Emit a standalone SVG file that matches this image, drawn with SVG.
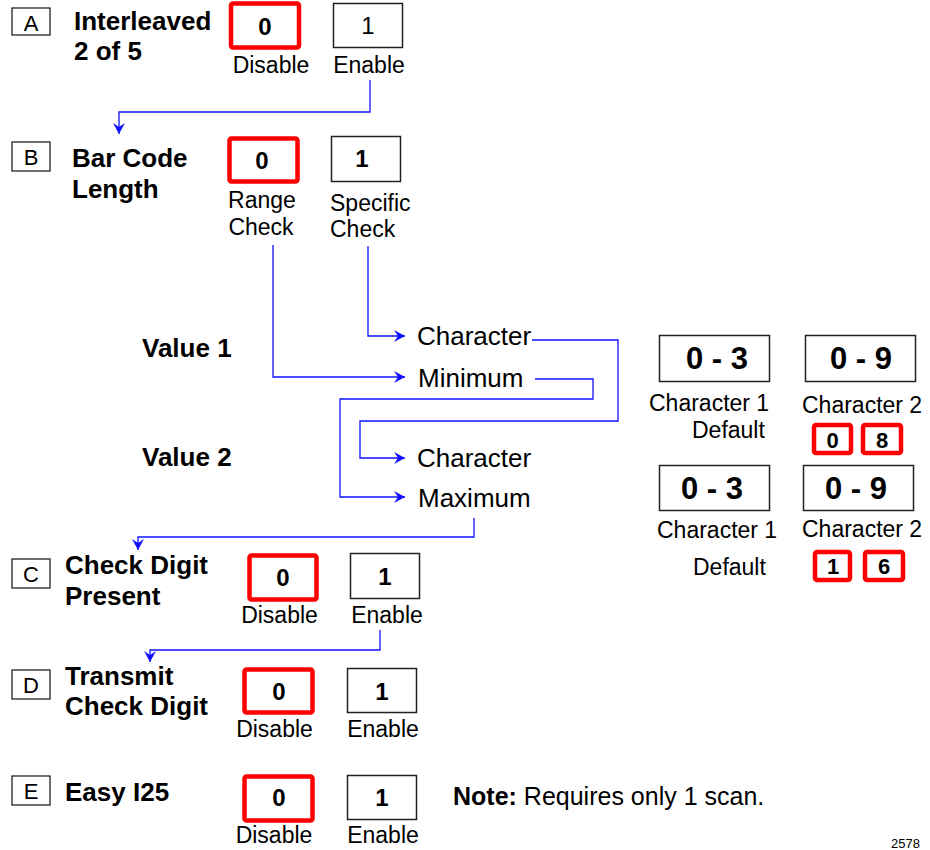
<svg xmlns="http://www.w3.org/2000/svg" width="930" height="850" viewBox="0 0 930 850">
<style>
.bg{fill:#ffffff}
.lbl{fill:#fff;stroke:#222;stroke-width:1.3}
.sel{fill:#fff;stroke:#ff0000;stroke-width:4.5}
.opt{fill:#fff;stroke:#222;stroke-width:1.5}
.t{font-family:"Liberation Sans",Arial,sans-serif;fill:#000}
.ltr{font-size:22px;text-anchor:middle}
.hd{font-size:26px;font-weight:bold}
.dig{font-size:24px;font-weight:bold;text-anchor:middle}
.sm{font-size:23px}
.c{text-anchor:middle}
.mid{font-size:26px}
.rng{font-size:31px;font-weight:bold;text-anchor:middle}
.sd{font-size:22px;font-weight:bold;text-anchor:middle}
.conn{fill:none;stroke:#1010ff;stroke-width:1.3}
</style>
<defs>
<marker id="arr" markerWidth="12" markerHeight="12" refX="11" refY="6" orient="auto" markerUnits="userSpaceOnUse">
<path d="M0,0 L11,6 L0,12 L4,6 Z" fill="#1010ff"/>
</marker>
</defs>
<rect class="bg" x="0" y="0" width="930" height="850"/>

<g id="rowA">
<rect class="lbl" x="12" y="8" width="38" height="27"/>
<text class="t ltr" x="31" y="31">A</text>
<text class="t hd" x="74" y="30">Interleaved</text>
<text class="t hd" x="74" y="60">2 of 5</text>
</g>
<g id="A0">
<rect class="sel" x="231" y="3.5" width="68" height="44" rx="2"/>
<text class="t dig" x="265" y="35">0</text>
<text class="t sm c" x="271" y="73">Disable</text>
</g>
<g id="A1">
<rect class="opt" x="333.5" y="3.5" width="69" height="44"/>
<text class="t c" style="font-size:24px" x="368" y="34">1</text>
<text class="t sm c" x="369" y="73">Enable</text>
</g>

<g id="rowB">
<rect class="lbl" x="12" y="142" width="38" height="29"/>
<text class="t ltr" x="31" y="165">B</text>
<text class="t hd" x="72" y="167">Bar Code</text>
<text class="t hd" x="72" y="198">Length</text>
</g>
<g id="B0">
<rect class="sel" x="229.5" y="138.5" width="68" height="43" rx="2"/>
<text class="t dig" x="262" y="169">0</text>
<text class="t sm c" x="262" y="208">Range</text>
<text class="t sm c" x="261" y="235">Check</text>
</g>
<g id="B1">
<rect class="opt" x="331.5" y="136.5" width="69" height="45"/>
<text class="t dig" x="362" y="167">1</text>
<text class="t sm" x="330" y="211">Specific</text>
<text class="t sm" x="330" y="237">Check</text>
</g>

<g id="values">
<text class="t hd" x="142" y="357">Value 1</text>
<text class="t hd" x="142" y="466">Value 2</text>
</g>
<g id="char1"><text class="t mid" x="417" y="345">Character</text></g>
<g id="minimum"><text class="t mid" x="418" y="387">Minimum</text></g>
<g id="char2"><text class="t mid" x="417" y="467">Character</text></g>
<g id="maximum"><text class="t mid" x="418" y="507">Maximum</text></g>

<g id="range1">
<rect class="opt" x="659.5" y="335.5" width="110" height="46"/>
<text class="t rng" x="717" y="369">0 - 3</text>
<rect class="opt" x="805.5" y="335.5" width="110" height="46"/>
<text class="t rng" x="861" y="369">0 - 9</text>
<text class="t sm" x="649" y="411">Character 1</text>
<text class="t sm" x="802" y="413">Character 2</text>
<text class="t sm" x="692" y="438">Default</text>
<rect class="sel" x="814" y="425" width="37" height="28" rx="2"/>
<text class="t sd" x="832.5" y="448">0</text>
<rect class="sel" x="863" y="425" width="38" height="28" rx="2"/>
<text class="t sd" x="882" y="448">8</text>
</g>
<g id="range2">
<rect class="opt" x="659.5" y="465.5" width="110" height="45"/>
<text class="t rng" x="712" y="499">0 - 3</text>
<rect class="opt" x="803.5" y="465.5" width="110" height="45"/>
<text class="t rng" x="856" y="499">0 - 9</text>
<text class="t sm" x="657" y="538">Character 1</text>
<text class="t sm" x="802" y="537">Character 2</text>
<text class="t sm" x="693" y="575">Default</text>
<rect class="sel" x="815" y="552" width="35" height="28" rx="2"/>
<text class="t sd" x="833" y="574">1</text>
<rect class="sel" x="865" y="552" width="38" height="28" rx="2"/>
<text class="t sd" x="884" y="574">6</text>
</g>

<g id="rowC">
<rect class="lbl" x="12" y="559" width="38" height="29"/>
<text class="t ltr" x="31" y="582">C</text>
<text class="t hd" x="65" y="574">Check Digit</text>
<text class="t hd" x="65" y="605">Present</text>
</g>
<g id="C0">
<rect class="sel" x="249.5" y="555.5" width="67" height="44" rx="2"/>
<text class="t dig" x="283" y="586">0</text>
<text class="t sm c" x="279.5" y="623">Disable</text>
</g>
<g id="C1">
<rect class="opt" x="350.5" y="553.5" width="69" height="45"/>
<text class="t dig" x="385" y="585">1</text>
<text class="t sm c" x="387" y="623">Enable</text>
</g>

<g id="rowD">
<rect class="lbl" x="12" y="670" width="38" height="29"/>
<text class="t ltr" x="31" y="693">D</text>
<text class="t hd" x="65" y="685">Transmit</text>
<text class="t hd" x="65" y="715">Check Digit</text>
</g>
<g id="D0">
<rect class="sel" x="244.5" y="669.5" width="68" height="43" rx="2"/>
<text class="t dig" x="279" y="700">0</text>
<text class="t sm c" x="274.5" y="737">Disable</text>
</g>
<g id="D1">
<rect class="opt" x="347.5" y="668.5" width="69" height="44"/>
<text class="t dig" x="382" y="700">1</text>
<text class="t sm c" x="383" y="737">Enable</text>
</g>

<g id="rowE">
<rect class="lbl" x="12" y="776" width="38" height="29"/>
<text class="t ltr" x="31" y="799">E</text>
<text class="t hd" x="65" y="801">Easy I25</text>
</g>
<g id="E0">
<rect class="sel" x="244.5" y="776.5" width="68" height="44" rx="2"/>
<text class="t dig" x="279" y="806">0</text>
<text class="t sm c" x="274" y="843">Disable</text>
</g>
<g id="E1">
<rect class="opt" x="347.5" y="775.5" width="69" height="44"/>
<text class="t dig" x="382" y="806">1</text>
<text class="t sm c" x="383" y="843">Enable</text>
</g>
<g id="note">
<text class="t" style="font-size:25px" x="453" y="805"><tspan font-weight="bold">Note:</tspan> Requires only 1 scan.</text>
</g>
<g id="figno">
<text class="t" style="font-size:13px" x="891" y="848">2578</text>
</g>

<g id="connectors">
<path class="conn" d="M370,80 V112 H119 V134" marker-end="url(#arr)"/>
<path class="conn" d="M273,245 V377 H405" marker-end="url(#arr)"/>
<path class="conn" d="M368,246 V336 H405" marker-end="url(#arr)"/>
<path class="conn" d="M532,340 H618 V421 H360 V458 H405" marker-end="url(#arr)"/>
<path class="conn" d="M535,379 H593 V399 H340 V497 H405" marker-end="url(#arr)"/>
<path class="conn" d="M474,518 V537 H138 V550" marker-end="url(#arr)"/>
<path class="conn" d="M380,630 V650 H150 V662" marker-end="url(#arr)"/>
</g>
</svg>
